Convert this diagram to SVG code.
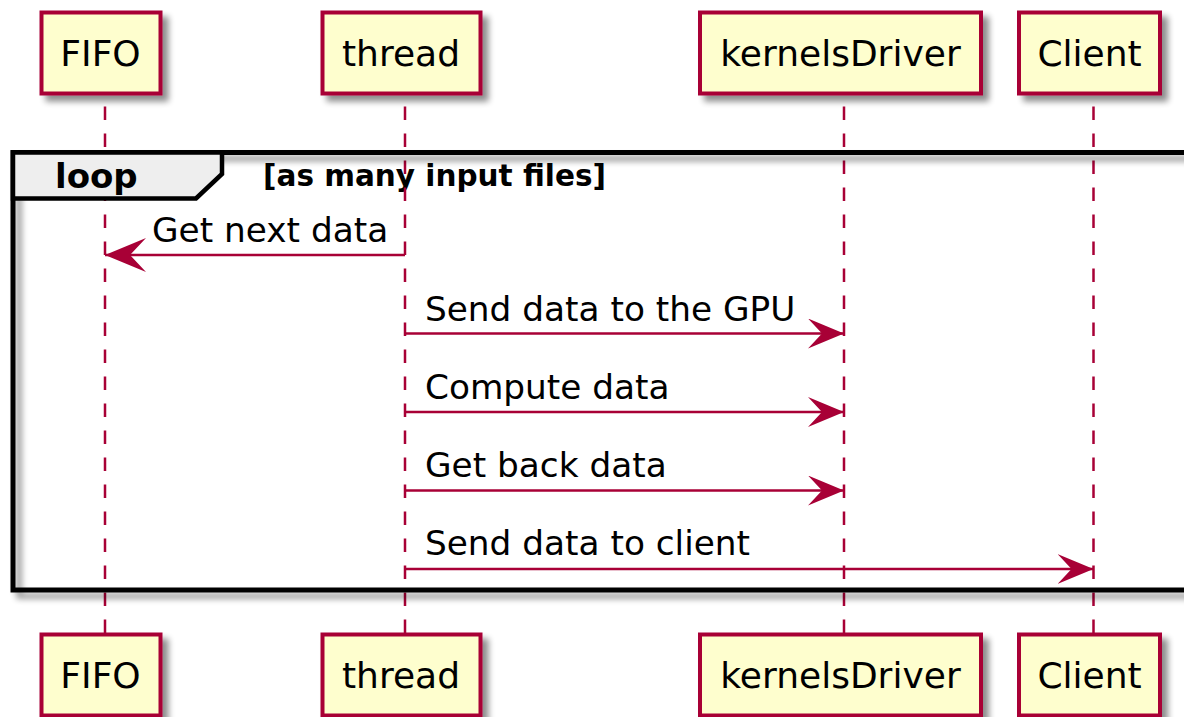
<svg xmlns="http://www.w3.org/2000/svg" width="1184" height="717" viewBox="0 0 1184 717">
<defs>
<filter id="sh" x="-10%" y="-10%" width="130%" height="140%">
<feGaussianBlur in="SourceAlpha" stdDeviation="3"/>
<feOffset dx="6" dy="6" result="b"/>
<feComponentTransfer><feFuncA type="linear" slope="0.45"/></feComponentTransfer>
<feMerge><feMergeNode/><feMergeNode in="SourceGraphic"/></feMerge>
</filter>
<marker id="ah" markerUnits="userSpaceOnUse" markerWidth="40" markerHeight="32" refX="36" refY="15" orient="auto">
<path d="M36,15 L0,0 L14,15 L0,30 Z" fill="#A80036"/>
</marker>
<marker id="ahl" markerUnits="userSpaceOnUse" markerWidth="44" markerHeight="36" refX="41" refY="17" orient="auto">
<path d="M41,17 L0,0 L16,17 L0,34 Z" fill="#A80036"/>
</marker>
</defs>
<style>
.box{fill:#FEFECE;stroke:#A80036;stroke-width:4}
.pt{font-family:"DejaVu Sans",sans-serif;font-size:36px;fill:#000;text-anchor:middle}
.life{stroke:#A80036;stroke-width:2.5;stroke-dasharray:13.5 13.5;fill:none}
.msg{stroke:#A80036;stroke-width:2.7;fill:none}
.ml{font-family:"DejaVu Sans",sans-serif;font-size:34.3px;fill:#000}
.b{font-family:"DejaVu Sans",sans-serif;font-weight:bold;fill:#000}
</style>
<rect width="1184" height="717" fill="#fff"/>
<text class="b" x="263" y="186" font-size="29.5">[as many input files]</text>
<g id="lifelines">
<line class="life" x1="105" y1="106.5" x2="105" y2="634"/>
<line class="life" x1="405" y1="106.5" x2="405" y2="634"/>
<line class="life" x1="844" y1="106.5" x2="844" y2="634"/>
<line class="life" x1="1093.5" y1="106.5" x2="1093.5" y2="634"/>
</g>
<g id="loop">
<rect x="13" y="152.5" width="1200" height="437.5" fill="none" stroke="#000" stroke-width="5" filter="url(#sh)"/>
<path d="M13,152.5 H222 V174 L196,198.5 H13 Z" fill="#EEEEEE" stroke="#000" stroke-width="4.5"/>
<text class="b" x="55" y="188" font-size="34">loop</text>
</g>
<g id="FIFO">
<rect class="box" x="41.5" y="12.5" width="119" height="81" filter="url(#sh)"/>
<text class="pt" x="100.5" y="66">FIFO</text>
<rect class="box" x="41.5" y="634.5" width="119" height="81" filter="url(#sh)"/>
<text class="pt" x="100.5" y="688">FIFO</text>
</g>
<g id="thread">
<rect class="box" x="322.5" y="12.5" width="158" height="81" filter="url(#sh)"/>
<text class="pt" x="401" y="66">thread</text>
<rect class="box" x="322.5" y="634.5" width="158" height="81" filter="url(#sh)"/>
<text class="pt" x="401" y="688">thread</text>
</g>
<g id="kernelsDriver">
<rect class="box" x="700" y="12.5" width="281" height="81" filter="url(#sh)"/>
<text class="pt" x="840.5" y="66">kernelsDriver</text>
<rect class="box" x="700" y="634.5" width="281" height="81" filter="url(#sh)"/>
<text class="pt" x="840.5" y="688">kernelsDriver</text>
</g>
<g id="Client">
<rect class="box" x="1019" y="12.5" width="141" height="81" filter="url(#sh)"/>
<text class="pt" x="1089.5" y="66">Client</text>
<rect class="box" x="1019" y="634.5" width="141" height="81" filter="url(#sh)"/>
<text class="pt" x="1089.5" y="688">Client</text>
</g>
<g id="connectors">
<line class="msg" x1="405" y1="255" x2="105" y2="255" marker-end="url(#ahl)"/>
<text class="ml" x="152" y="242">Get next data</text>
<line class="msg" x1="405" y1="333.5" x2="844" y2="333.5" marker-end="url(#ah)"/>
<text class="ml" x="425" y="321">Send data to the GPU</text>
<line class="msg" x1="405" y1="412" x2="844" y2="412" marker-end="url(#ah)"/>
<text class="ml" x="425" y="399">Compute data</text>
<line class="msg" x1="405" y1="490.5" x2="844" y2="490.5" marker-end="url(#ah)"/>
<text class="ml" x="425" y="477">Get back data</text>
<line class="msg" x1="405" y1="569" x2="1093.5" y2="569" marker-end="url(#ah)"/>
<text class="ml" x="425" y="555">Send data to client</text>
</g>
</svg>
